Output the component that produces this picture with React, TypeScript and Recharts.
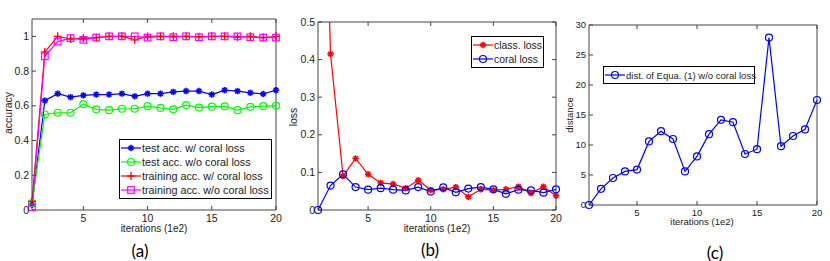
import React from 'react';
import { Line, LineChart, XAxis, YAxis } from 'recharts';

// iterations (1e2)
const iterations = [1, 2, 3, 4, 5, 6, 7, 8, 9, 10, 11, 12, 13, 14, 15, 16, 17, 18, 19, 20];

// (a) accuracy
const testAccCoral = [0.03, 0.63, 0.67, 0.65, 0.66, 0.665, 0.665, 0.67, 0.655, 0.67, 0.67, 0.68, 0.685, 0.685, 0.665, 0.69, 0.685, 0.675, 0.668, 0.69];
const testAccNoCoral = [0.04, 0.55, 0.56, 0.56, 0.61, 0.58, 0.575, 0.583, 0.583, 0.598, 0.588, 0.58, 0.604, 0.59, 0.595, 0.597, 0.575, 0.594, 0.598, 0.6];
const trainAccCoral = [0.05, 0.91, 1.0, 0.985, 0.99, 0.993, 1.0, 1.0, 0.98, 1.0, 1.0, 1.0, 1.0, 0.998, 1.0, 1.0, 0.995, 1.0, 0.993, 1.0];
const trainAccNoCoral = [0.015, 0.885, 0.97, 0.99, 0.98, 0.993, 1.0, 1.0, 1.0, 0.993, 1.0, 0.995, 1.0, 0.995, 1.0, 1.0, 1.0, 0.995, 0.993, 0.993];

// (b) loss
const classLoss = [1.6, 0.415, 0.09, 0.137, 0.095, 0.072, 0.069, 0.058, 0.079, 0.053, 0.055, 0.061, 0.035, 0.055, 0.053, 0.055, 0.062, 0.045, 0.062, 0.038];
const coralLoss = [0.0, 0.065, 0.095, 0.061, 0.054, 0.058, 0.054, 0.052, 0.061, 0.049, 0.06, 0.047, 0.057, 0.061, 0.055, 0.043, 0.054, 0.052, 0.046, 0.055];

// (c) distance
const distance = [0.0, 2.7, 4.5, 5.6, 5.9, 10.6, 12.3, 11.0, 5.6, 8.1, 11.8, 14.2, 13.8, 8.5, 9.3, 27.9, 9.8, 11.5, 12.6, 17.5];

const xTicks = [5, 10, 15, 20];
const accTicks = [0, 0.2, 0.4, 0.6, 0.8, 1];
const lossTicks = [0, 0.1, 0.2, 0.3, 0.4, 0.5];
const distTicks = [0, 5, 10, 15, 20, 25, 30];

const accData = iterations.map((it, i) => ({
  it,
  testW: testAccCoral[i],
  testWo: testAccNoCoral[i],
  trainW: trainAccCoral[i],
  trainWo: trainAccNoCoral[i],
}));
const lossData = iterations.map((it, i) => ({ it, cls: classLoss[i], coral: coralLoss[i] }));
const distData = iterations.map((it, i) => ({ it, dist: distance[i] }));

const FONT = '"Liberation Sans", Arial, sans-serif';
const AXIS = '#444';
const TEXT = '#222';

type MarkerKind = 'star' | 'circle' | 'plus' | 'square';

function Marker({ kind, cx, cy, color }: { kind: MarkerKind; cx: number; cy: number; color: string }) {
  if (kind === 'circle') {
    return <circle cx={cx} cy={cy} r={3.5} fill="none" stroke={color} strokeWidth={1.2} />;
  }
  if (kind === 'square') {
    return <rect x={cx - 3.3} y={cy - 3.3} width={6.6} height={6.6} fill="none" stroke={color} strokeWidth={1.2} />;
  }
  if (kind === 'plus') {
    return (
      <g stroke={color} strokeWidth={1.3}>
        <line x1={cx - 4} x2={cx + 4} y1={cy} y2={cy} />
        <line x1={cx} x2={cx} y1={cy - 4} y2={cy + 4} />
      </g>
    );
  }
  const r = 3.2;
  const d = r * 0.707;
  return (
    <g stroke={color} strokeWidth={1.6}>
      <line x1={cx - r} x2={cx + r} y1={cy} y2={cy} />
      <line x1={cx} x2={cx} y1={cy - r} y2={cy + r} />
      <line x1={cx - d} x2={cx + d} y1={cy - d} y2={cy + d} />
      <line x1={cx - d} x2={cx + d} y1={cy + d} y2={cy - d} />
    </g>
  );
}

const dotFor = (kind: MarkerKind, color: string) => (p: any) => {
  if (p.cx == null || p.cy == null) return <g key={p.index} />;
  return (
    <g key={`${kind}-${p.index}`}>
      <Marker kind={kind} cx={p.cx} cy={p.cy} color={color} />
    </g>
  );
};

// labels only; the inward tick marks come from tickSize={-4}
const bottomLabel = (fontSize: number) => (p: any) => (
  <text key={`b-${p.index}`} x={p.x} y={p.y + fontSize + 1} textAnchor="middle" fontSize={fontSize} fontFamily={FONT} fill={TEXT}>
    {p.payload.value}
  </text>
);
const leftLabel = (fontSize: number) => (p: any) => (
  <text key={`l-${p.index}`} x={p.x - 3} y={p.y} dy="0.35em" textAnchor="end" fontSize={fontSize} fontFamily={FONT} fill={TEXT}>
    {p.payload.value}
  </text>
);
const noLabel = (p: any) => <g key={`n-${p.index}`} />;

const tickStroke = { stroke: AXIS };
const axisStroke = { stroke: AXIS, strokeWidth: 1 };

type LegendItem = { name: string; color: string; kind: MarkerKind };

function LegendBox({ items, left, top, width, fontSize }: { items: LegendItem[]; left: number; top: number; width: number; fontSize: number }) {
  return (
    <div
      style={{
        position: 'absolute',
        left,
        top,
        width,
        border: '1px solid #000',
        background: '#fff',
        padding: '1px 0',
        boxSizing: 'border-box',
        fontFamily: FONT,
        fontSize,
        color: TEXT,
      }}
    >
      {items.map((it) => (
        <div key={it.name} style={{ display: 'flex', alignItems: 'center', height: 14, whiteSpace: 'nowrap' }}>
          <svg width={20} height={14} style={{ marginLeft: 1, marginRight: 1, flex: 'none' }}>
            <line x1={0} x2={20} y1={7} y2={7} stroke={it.color} strokeWidth={1.2} />
            <Marker kind={it.kind} cx={10} cy={7} color={it.color} />
          </svg>
          <span>{it.name}</span>
        </div>
      ))}
    </div>
  );
}

const abs = (left: number, top: number): React.CSSProperties => ({ position: 'absolute', left, top });

function Text({ x, y, size, children, rotate, family }: { x: number; y: number; size: number; children: React.ReactNode; rotate?: boolean; family?: string }) {
  return (
    <div
      style={{
        position: 'absolute',
        left: x,
        top: y,
        transform: `translate(-50%, -50%)${rotate ? ' rotate(-90deg)' : ''}`,
        fontFamily: family ?? FONT,
        fontSize: size,
        color: family ? '#000' : TEXT,
        whiteSpace: 'nowrap',
        lineHeight: 1,
      }}
    >
      {children}
    </div>
  );
}

const CAPTION_FONT = "Lato, 'Open Sans', sans-serif";

export default function App() {
  return (
    <div style={{ position: 'absolute', left: 0, top: 0, width: 830, height: 261, background: '#fff', overflow: 'hidden' }}>
      {/* (a) accuracy */}
      <div style={abs(0, 0)}>
        <LineChart width={290} height={261} data={accData} margin={{ top: 18, right: 13, bottom: 0, left: 0 }}>
          <XAxis dataKey="it" type="number" domain={[1, 20]} ticks={xTicks} height={51} axisLine={axisStroke} tickLine={tickStroke} tickSize={-4} tickMargin={4} tick={bottomLabel(10.5)} />
          <XAxis dataKey="it" xAxisId="top" orientation="top" type="number" domain={[1, 20]} ticks={xTicks} height={1} axisLine={axisStroke} tickLine={tickStroke} tickSize={-4} tick={noLabel} />
          <YAxis type="number" domain={[0, 1.1]} ticks={accTicks} width={32} axisLine={axisStroke} tickLine={tickStroke} tickSize={-4} tickMargin={4} tick={leftLabel(10.5)} />
          <YAxis yAxisId="right" orientation="right" type="number" domain={[0, 1.1]} ticks={accTicks} width={1} axisLine={axisStroke} tickLine={tickStroke} tickSize={-4} tick={noLabel} />
          <Line dataKey="testW" stroke="#0000ff" strokeWidth={1.2} dot={dotFor('star', '#0000ff')} activeDot={false} isAnimationActive={false} />
          <Line dataKey="testWo" stroke="#00ff00" strokeWidth={1.2} dot={dotFor('circle', '#00ff00')} activeDot={false} isAnimationActive={false} />
          <Line dataKey="trainW" stroke="#ff0000" strokeWidth={1.2} dot={dotFor('plus', '#ff0000')} activeDot={false} isAnimationActive={false} />
          <Line dataKey="trainWo" stroke="#ff00ff" strokeWidth={1.2} dot={dotFor('square', '#ff00ff')} activeDot={false} isAnimationActive={false} />
        </LineChart>
      </div>

      {/* (b) loss */}
      <div style={abs(280, 0)}>
        <LineChart width={290} height={261} data={lossData} margin={{ top: 21, right: 13, bottom: 0, left: 0 }}>
          <XAxis dataKey="it" type="number" domain={[1, 20]} ticks={xTicks} height={51} axisLine={axisStroke} tickLine={tickStroke} tickSize={-4} tickMargin={4} tick={bottomLabel(10.5)} />
          <XAxis dataKey="it" xAxisId="top" orientation="top" type="number" domain={[1, 20]} ticks={xTicks} height={1} axisLine={axisStroke} tickLine={tickStroke} tickSize={-4} tick={noLabel} />
          <YAxis type="number" domain={[0, 0.5]} allowDataOverflow ticks={lossTicks} width={38} axisLine={axisStroke} tickLine={tickStroke} tickSize={-4} tickMargin={4} tick={leftLabel(10.5)} />
          <YAxis yAxisId="right" orientation="right" type="number" domain={[0, 0.5]} ticks={lossTicks} width={1} axisLine={axisStroke} tickLine={tickStroke} tickSize={-4} tick={noLabel} />
          <Line dataKey="cls" stroke="#ff0000" strokeWidth={1.2} dot={dotFor('star', '#ff0000')} activeDot={false} isAnimationActive={false} />
          <Line dataKey="coral" yAxisId="right" stroke="#0000ff" strokeWidth={1.2} dot={dotFor('circle', '#0000ff')} activeDot={false} isAnimationActive={false} />
        </LineChart>
      </div>

      {/* (c) distance */}
      <div style={abs(560, 0)}>
        <LineChart width={270} height={261} data={distData} margin={{ top: 24, right: 12, bottom: 0, left: 0 }}>
          <XAxis dataKey="it" type="number" domain={[1, 20]} ticks={xTicks} height={56} axisLine={axisStroke} tickLine={tickStroke} tickSize={-4} tickMargin={4} tick={bottomLabel(9.5)} />
          <XAxis dataKey="it" xAxisId="top" orientation="top" type="number" domain={[1, 20]} ticks={xTicks} height={1} axisLine={axisStroke} tickLine={tickStroke} tickSize={-4} tick={noLabel} />
          <YAxis type="number" domain={[0, 30]} ticks={distTicks} width={29} axisLine={axisStroke} tickLine={tickStroke} tickSize={-4} tickMargin={4} tick={leftLabel(9.5)} />
          <YAxis yAxisId="right" orientation="right" type="number" domain={[0, 30]} ticks={distTicks} width={1} axisLine={axisStroke} tickLine={tickStroke} tickSize={-4} tick={noLabel} />
          <Line dataKey="dist" stroke="#0000ff" strokeWidth={1.2} dot={dotFor('circle', '#0000ff')} activeDot={false} isAnimationActive={false} />
        </LineChart>
      </div>

      <LegendBox
        left={119}
        top={139}
        width={153}
        fontSize={10.8}
        items={[
          { name: 'test acc. w/ coral loss', color: '#0000ff', kind: 'star' },
          { name: 'test acc. w/o coral loss', color: '#00ff00', kind: 'circle' },
          { name: 'training acc. w/ coral loss', color: '#ff0000', kind: 'plus' },
          { name: 'training acc. w/o coral loss', color: '#ff00ff', kind: 'square' },
        ]}
      />
      <LegendBox
        left={471}
        top={36}
        width={73}
        fontSize={10.4}
        items={[
          { name: 'class. loss', color: '#ff0000', kind: 'star' },
          { name: 'coral loss', color: '#0000ff', kind: 'circle' },
        ]}
      />
      <LegendBox
        left={603}
        top={66}
        width={152}
        fontSize={9.5}
        items={[{ name: 'dist. of Equa. (1) w/o coral loss', color: '#0000ff', kind: 'circle' }]}
      />

      <Text x={8} y={113} size={10.5} rotate>accuracy</Text>
      <Text x={293} y={117} size={10.5} rotate>loss</Text>
      <Text x={570} y={115} size={9.5} rotate>distance</Text>

      <Text x={154} y={229} size={10}>iterations (1e2)</Text>
      <Text x={437} y={229} size={10}>iterations (1e2)</Text>
      <Text x={702} y={222} size={9.5}>iterations (1e2)</Text>

      <Text x={140} y={250} size={17} family={CAPTION_FONT}>(a)</Text>
      <Text x={430} y={249} size={17} family={CAPTION_FONT}>(b)</Text>
      <Text x={715} y={252} size={17} family={CAPTION_FONT}>(c)</Text>
    </div>
  );
}
